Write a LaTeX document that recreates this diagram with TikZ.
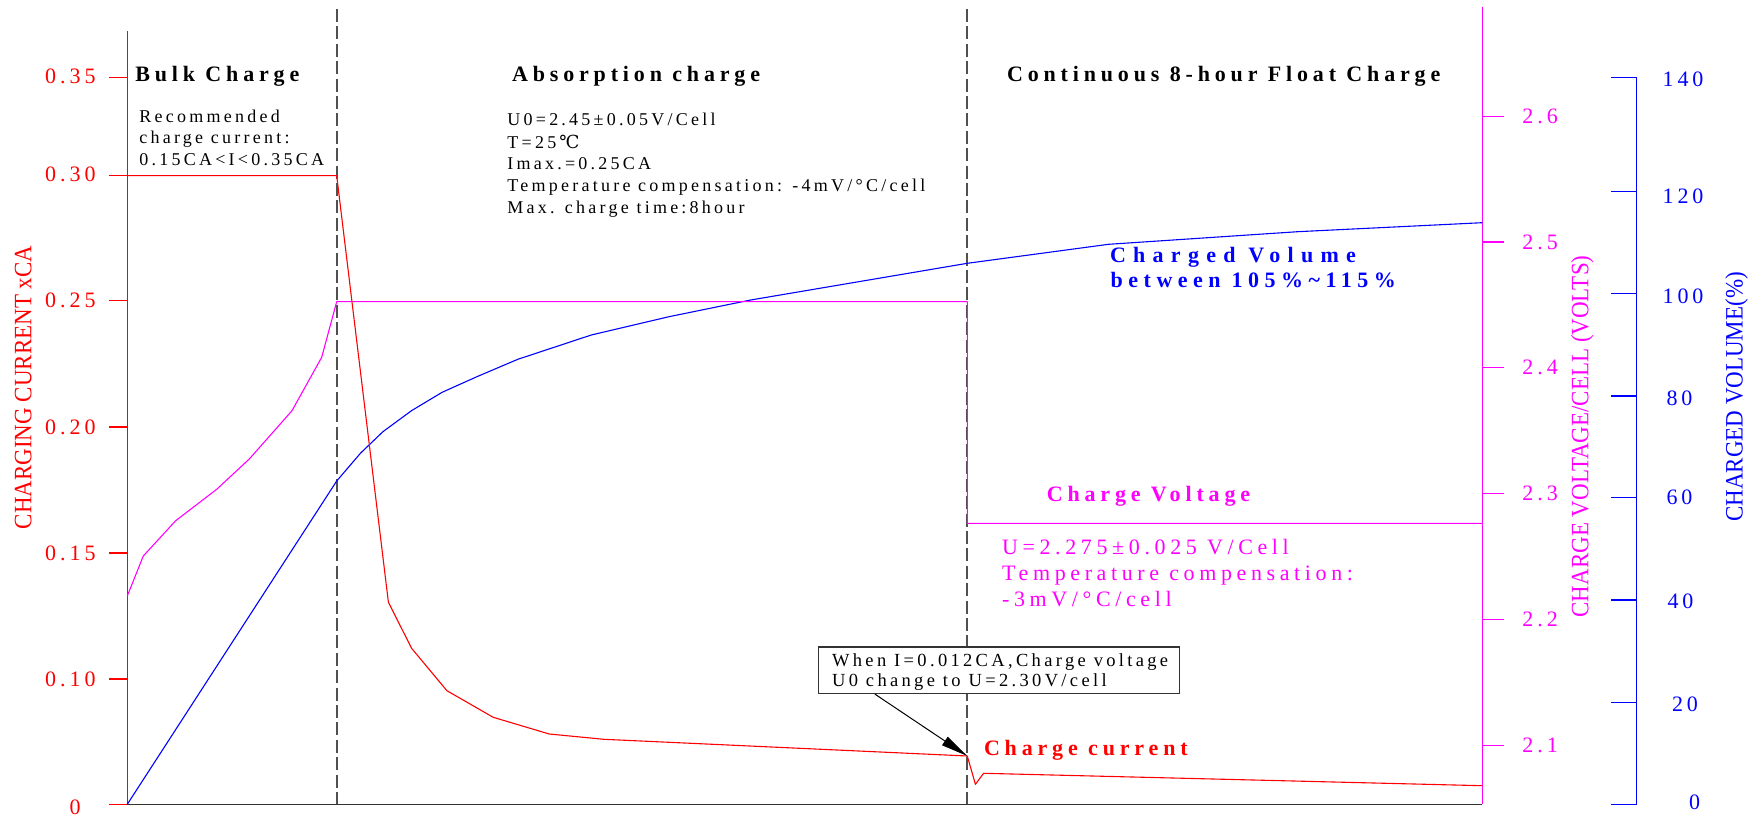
\documentclass[tikz,border=0pt]{standalone}
\usepackage{fontspec}
\setmainfont{Liberation Serif}
\newfontfamily\lsreg[LetterSpace=18]{Liberation Serif}
\newfontfamily\lsflt[LetterSpace=21]{Liberation Serif}
\newfontfamily\lsbold[LetterSpace=22]{Liberation Serif}
\newfontfamily\lsboldm[LetterSpace=25]{Liberation Serif}
\newfontfamily\lsboldw[LetterSpace=33]{Liberation Serif}
\newfontfamily\lsnum[LetterSpace=18]{Liberation Serif}
\newfontfamily\condfont[FakeStretch=0.92]{Liberation Serif}
\newfontfamily\symfont{DejaVu Serif}
\usetikzlibrary{arrows.meta}
\definecolor{cred}{RGB}{255,0,0}
\definecolor{cmag}{RGB}{255,0,255}
\definecolor{cblue}{RGB}{0,0,255}
\definecolor{caxis}{RGB}{51,51,51}
\definecolor{cdash}{RGB}{80,80,80}
\tikzset{
  txt/.style={inner sep=0pt, anchor=base west},
  body/.style={txt, font=\lsreg\fontsize{9}{11}\selectfont},
  head/.style={txt, font=\lsbold\bfseries\fontsize{11}{13}\selectfont},
  headm/.style={txt, font=\lsboldm\bfseries\fontsize{11}{13}\selectfont},
  headw/.style={txt, font=\lsboldw\bfseries\fontsize{11}{13}\selectfont},
  flt/.style={txt, text=cmag, font=\lsflt\fontsize{11}{13}\selectfont},
  note/.style={txt, font=\lsreg\fontsize{9.25}{11}\selectfont},
  ylab/.style={inner sep=0pt, font=\lsnum\fontsize{11}{13}\selectfont},
  atitle/.style={inner sep=0pt, rotate=90, font=\condfont\fontsize{12.5}{15}\selectfont},
  sep/.style={cdash, line width=0.85pt, dash pattern=on 6.5pt off 2.2pt},
  curve/.style={line width=0.55pt, line join=round},
  calloutbox/.style={draw=caxis, line width=0.8pt, fill=white, minimum width=180.5pt, minimum height=23.3pt, inner sep=0pt}
}
\begin{document}
\begin{tikzpicture}[x=0.5pt,y=-0.5pt]
\useasboundingbox (0,0) rectangle (1760,817);
\fill[white] (0,0) rectangle (1760,817);

% phase separators
\draw[sep] (336.7,9) -- (336.7,804.3);
\draw[sep] (967.3,9) -- (967.3,804.3);

% left axis (current)
\draw[cred, line width=0.6pt] (127.3,31) -- (127.3,804.3);
\foreach \yy in {77.3,175.7,300.7,427,553,679}
  \draw[cred, line width=0.6pt] (109,\yy) -- (127.3,\yy);
% bottom axis
\draw[caxis, line width=0.8pt] (127.3,804.3) -- (1482.3,804.3);
\draw[cred, line width=0.6pt] (109,804.3) -- (127.3,804.3);
% voltage axis
\draw[cmag, line width=0.6pt] (1482.3,6.7) -- (1482.3,804.3);
\foreach \yy in {116.3,242,367.7,493.3,619.3,745.3}
  \draw[cmag, line width=0.6pt] (1482.3,\yy) -- (1504,\yy);
% volume axis
\draw[cblue, line width=0.7pt] (1611,77.7) -- (1636.3,77.7) -- (1636.3,804.3) -- (1611,804.3);
\foreach \yy in {191.3,293.3,396,497.7,600,702.3}
  \draw[cblue, line width=0.7pt] (1611,\yy) -- (1636.3,\yy);

% left tick labels
\node[ylab, text=cred, anchor=east] (c035) at (96,76) {0.35};
\node[ylab, text=cred, anchor=east] (c030) at (96,174.5) {0.30};
\node[ylab, text=cred, anchor=east] (c025) at (96,300) {0.25};
\node[ylab, text=cred, anchor=east] (c020) at (96,427) {0.20};
\node[ylab, text=cred, anchor=east] (c015) at (96,553) {0.15};
\node[ylab, text=cred, anchor=east] (c010) at (96,679) {0.10};
\node[ylab, text=cred] (c000) at (75,807) {0};
% voltage labels
\node[ylab, text=cmag, anchor=west] (v26) at (1522,116) {2.6};
\node[ylab, text=cmag, anchor=west] (v25) at (1522,242) {2.5};
\node[ylab, text=cmag, anchor=west] (v24) at (1522,367.7) {2.4};
\node[ylab, text=cmag, anchor=west] (v23) at (1522,493.3) {2.3};
\node[ylab, text=cmag, anchor=west] (v22) at (1522,619.3) {2.2};
\node[ylab, text=cmag, anchor=west] (v21) at (1522,745.3) {2.1};
% volume labels
\node[ylab, text=cblue] (p140) at (1683,79) {140};
\node[ylab, text=cblue] (p120) at (1683,196.7) {120};
\node[ylab, text=cblue] (p100) at (1683,296) {100};
\node[ylab, text=cblue] (p080) at (1679.5,398.3) {80};
\node[ylab, text=cblue] (p060) at (1679.5,497.7) {60};
\node[ylab, text=cblue] (p040) at (1680.5,601.3) {40};
\node[ylab, text=cblue] (p020) at (1685,704.3) {20};
\node[ylab, text=cblue] (p000) at (1694.7,802) {0};

% axis titles
\node[atitle, text=cred] (tcur) at (23.3,387.5) {CHARGING CURRENT xCA};
\node[atitle, text=cmag] (tvolt) at (1582.3,436.5) {CHARGE VOLTAGE/CELL (VOLTS)};
\node[atitle, text=cblue] (tvol) at (1736.7,397) {CHARGED VOLUME(\%)};

% curves
\draw[curve, cblue] (127.3,804.3) -- (336.7,481) -- (360.4,453.3) -- (382.9,431.7) -- (411.5,410.7) -- (442.1,392.3) -- (476.9,376.7) -- (517.8,359.3) -- (591.3,335) -- (669,316.7) -- (750.7,300) -- (967.3,263.3) -- (1108.6,244.3) -- (1297.8,231.7) -- (1482.3,222.7);
\draw[curve, cmag] (127.3,596) -- (143.3,556) -- (175.7,520.7) -- (216.7,489.3) -- (249.3,459) -- (292,410.7) -- (321.7,357.3) -- (336.7,301.7) -- (967.3,301.7) -- (967.3,523.3) -- (1482.3,523.3);
\draw[curve, cred] (127.3,175.7) -- (336.7,175.7) -- (388.4,602.3) -- (411.6,648.3) -- (446.9,690.7) -- (493.2,717.3) -- (549.2,734) -- (603.8,739.3) -- (967.3,756) -- (975.4,784.3) -- (983.6,773.3) -- (1482.3,785.7);

% phase headings
\node[head] (hbulk) at (135,81.7) {Bulk Charge};
\node[head] (habs) at (511.7,82) {Absorption charge};
\node[head] (hflt) at (1006.7,81.7) {Continuous 8-hour Float Charge};

% bulk notes
\node[body] (b1) at (139,122.7) {Recommended};
\node[body] (b2) at (139,144) {charge current:};
\node[body] (b3) at (139,165.3) {0.15CA<I<0.35CA};

% absorption notes
\node[body] (a1) at (507,126) {U0=2.45±0.05V/Cell};
\node[body] (a2) at (507,148.3) {T=25\,{\symfont\fontsize{9}{10}\selectfont ℃}};
\node[body] (a3) at (507,170) {Imax.=0.25CA};
\node[body] (a4) at (507,191.7) {Temperature compensation: -4mV/°C/cell};
\node[body] (a5) at (507,213.5) {Max. charge time:8hour};

% volume label
\node[headw, text=cblue] (cv1) at (1109.7,262.7) {Charged Volume};
\node[headm, text=cblue] (cv2) at (1110.3,287.5) {between 105\%\textasciitilde115\%};

% float voltage label
\node[head, text=cmag] (cvt) at (1046.4,502) {Charge Voltage};
\node[flt] (f1) at (1001.7,554) {U=2.275±0.025 V/Cell};
\node[flt] (f2) at (1001.7,580) {Temperature compensation:};
\node[flt] (f3) at (1001.7,606) {-3mV/°C/cell};

% current label
\node[head, text=cred] (ccur) at (983.6,755) {Charge current};

% callout
\node[calloutbox] (callout) at (998.8,670) {};
\node[note] (n1) at (831.7,666) {When I=0.012CA,Charge voltage};
\node[note] (n2) at (831.7,686.7) {U0 change to U=2.30V/cell};
\coordinate (tip) at (967.3,756);
\draw[line width=0.5pt, -{Triangle[length=13.5pt,width=5pt]}] (callout.south west) ++(57.4,0) -- (tip);
\end{tikzpicture}
\end{document}
